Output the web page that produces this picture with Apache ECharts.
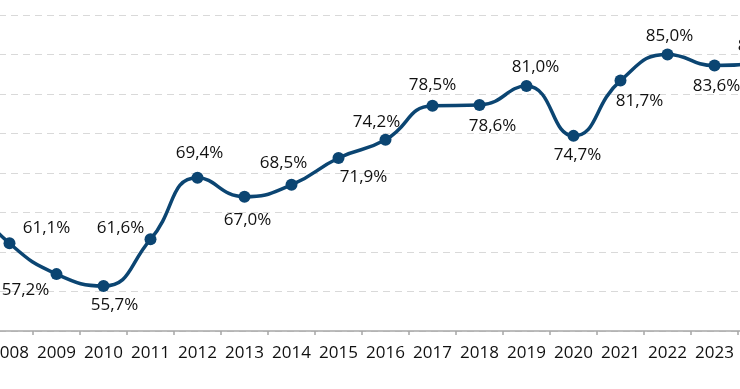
<!DOCTYPE html>
<html>
<head>
<meta charset="utf-8">
<script src="https://cdn.jsdelivr.net/npm/echarts@6/dist/echarts.min.js"></script>
<style>
html,body{margin:0;padding:0;background:#fff;overflow:hidden;width:740px;height:389px;position:relative;}
#c{position:absolute;left:-61px;top:0;width:846px;height:389px;}
</style>
</head>
<body>
<div id="c"></div>
<script>
var years = ['2007','2008','2009','2010','2011','2012','2013','2014','2015','2016','2017','2018','2019','2020','2021','2022','2023','2024'];
var values = [67.5, 61.1, 57.2, 55.7, 61.6, 69.4, 67.0, 68.5, 71.9, 74.2, 78.5, 78.6, 81.0, 74.7, 81.7, 85.0, 83.6, 84.0];
var yTicks = [50, 55, 60, 65, 70, 75, 80, 85, 90];
var labelOffsets = [[0,-18],[37,-15],[-31,16],[11,19],[-30,-11],[2,-25],[3,23],[-8,-22],[25,19],[-9,-18],[0,-21],[13,21],[9,-19],[4,19],[19,21],[2,-18],[2,21],[0,-16]];

var FONT = '"Open Sans", sans-serif';
var chart = echarts.init(document.getElementById('c'), null, {renderer:'canvas'});
var seriesData = values.map(function(v, i){
  return {
    value: v,
    label: { offset: labelOffsets[i] }
  };
});
chart.setOption({
  animation: false,
  backgroundColor: '#ffffff',
  grid: { left: 0, right: 0, top: 15, bottom: 58, containLabel: false },
  xAxis: {
    type: 'category',
    data: years,
    boundaryGap: true,
    axisLine: { show: true, lineStyle: { color: '#a6a6a6', width: 1.5 } },
    axisTick: { show: true, length: 4, alignWithLabel: false, lineStyle: { color: '#a6a6a6', width: 1.5 } },
    axisLabel: { interval: 0, margin: 14, color: '#111111', fontSize: 17, fontFamily: FONT }
  },
  yAxis: {
    type: 'value',
    min: yTicks[0],
    max: yTicks[yTicks.length-1],
    interval: 5,
    axisLine: { show: false },
    axisTick: { show: false },
    axisLabel: { show: false },
    splitLine: { show: true, lineStyle: { color: '#d9d9d9', type: [7,5], width: 1 } }
  },
  series: [{
    type: 'line',
    data: seriesData,
    smooth: 0.5,
    symbol: 'circle',
    symbolSize: 12,
    clip: false,
    lineStyle: { color: '#0b4572', width: 3.5 },
    itemStyle: { color: '#0b4572' },
    label: {
      show: true,
      position: 'inside',
      color: '#111111',
      fontSize: 17,
      fontFamily: FONT,
      formatter: function(p){ return p.value.toFixed(1).replace('.', ',') + '%'; }
    }
  }]
});
</script>
</body>
</html>
